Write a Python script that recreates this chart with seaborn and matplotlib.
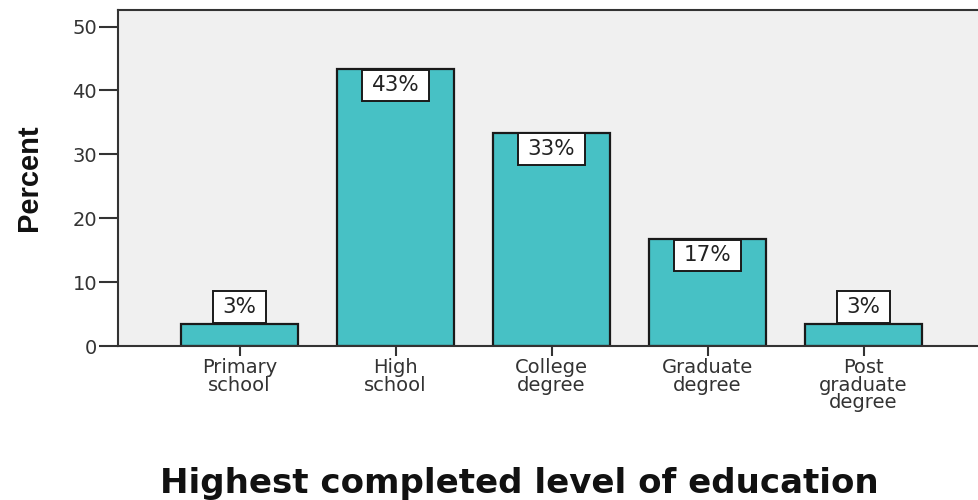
import matplotlib
matplotlib.use("Agg")
import matplotlib.pyplot as plt
from matplotlib.path import Path
import seaborn as sns
import pandas as pd

# Share of respondents by highest completed education level
levels = ["Primary\nschool", "High\nschool", "College\ndegree", "Graduate\ndegree", "Post\ngraduate\ndegree"]
percent = [3.4, 43.4, 33.4, 16.8, 3.4]
y_ticks = [0, 10, 20, 30, 40, 50]

df = pd.DataFrame({"level": levels, "percent": percent})

sns.set_theme(style="white")
plt.rcParams["font.family"] = ["DejaVu Sans"]

fig = plt.figure(figsize=(9.79, 5.0), dpi=100)
ax = fig.add_axes([0.1205, 0.308, 0.8795, 0.672])
ax.set_facecolor("#F0F0F0")

sns.barplot(data=df, x="level", y="percent", order=levels, color="#47C1C5",
            saturation=1, edgecolor="#1a1a1a", linewidth=1.6, width=0.75, ax=ax)

ax.set_xlim(-0.78, 4.74)
ax.set_ylim(0, 52.6)
ax.set_yticks(y_ticks)
ax.tick_params(bottom=True, left=True)
ax.tick_params(axis="both", direction="out", width=1.5,
               color="#333333", labelcolor="#333333")
ax.tick_params(axis="y", length=14, labelsize=14, pad=1)
ax.tick_params(axis="x", length=7.5, labelsize=14, pad=1)
for lab in ax.get_xticklabels():
    lab.set_linespacing(0.92)

for side in ["left", "top", "bottom", "right"]:
    ax.spines[side].set_color("#333333")
    ax.spines[side].set_linewidth(1.5)
ax.spines["right"].set_visible(False)


def label_box(x0, y0, width, height, mutation_size):
    # rectangle with wider horizontal than vertical padding
    px, py = 0.45 * mutation_size, 0.27 * mutation_size
    x0, y0 = x0 - px, y0 - py
    x1, y1 = x0 + width + 2 * px, y0 + height + 2 * py
    return Path([(x0, y0), (x1, y0), (x1, y1), (x0, y1), (x0, y0)],
                [Path.MOVETO, Path.LINETO, Path.LINETO, Path.LINETO, Path.CLOSEPOLY])


# Value labels: inside the top of tall bars, sitting on top of short ones
fs = 15.5
pad_pts = 0.27 * fs + 0.6
for i, v in enumerate(percent):
    txt = f"{v:.0f}%"
    box = dict(boxstyle=label_box, facecolor="white", edgecolor="#1a1a1a", linewidth=1.4)
    if v > 10:
        ax.annotate(txt, xy=(i, v), xytext=(0, -pad_pts), textcoords="offset points",
                    ha="center", va="top", fontsize=fs, color="#222222", bbox=box)
    else:
        ax.annotate(txt, xy=(i, v), xytext=(0, pad_pts + 0.6), textcoords="offset points",
                    ha="center", va="bottom", fontsize=fs, color="#222222", bbox=box)

ax.set_xlabel("Highest completed level of education", fontsize=24.5, fontweight="bold",
              color="#111111")
ax.xaxis.label.set_va("baseline")
ax.xaxis.set_label_coords(0.466, -0.437)
ax.set_ylabel("Percent", fontsize=21, fontweight="bold", color="#111111",
              family=["Liberation Sans", "DejaVu Sans"])
ax.yaxis.set_label_coords(-0.087, 0.5)

fig.savefig("out.png", dpi=100)
